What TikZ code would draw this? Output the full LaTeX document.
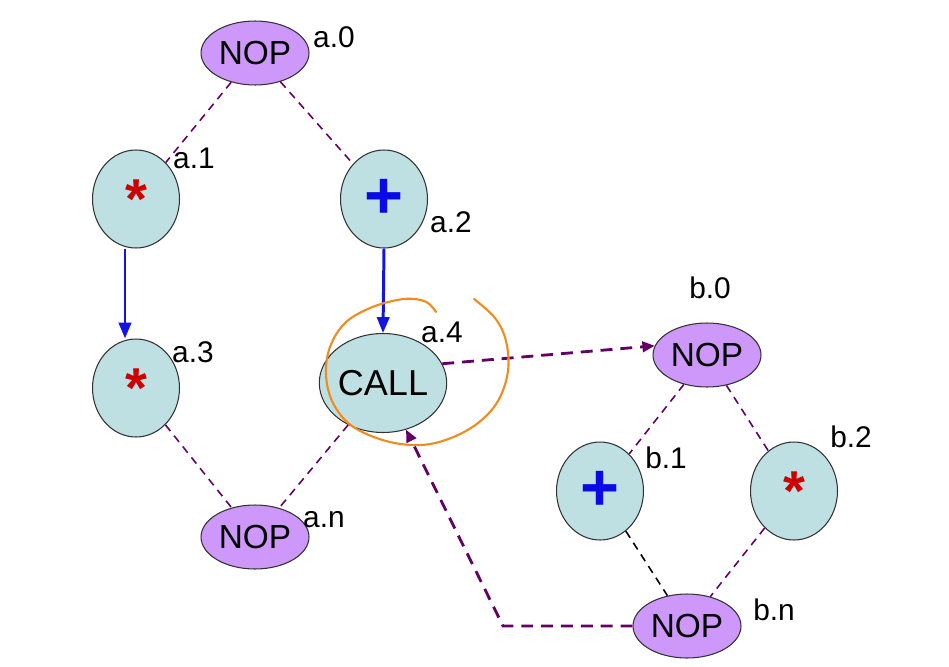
\documentclass[tikz,border=0pt]{standalone}
\usepackage{fontspec}
\setmainfont{Liberation Sans}
\usetikzlibrary{shapes.geometric,arrows.meta}
\definecolor{tealfill}{RGB}{190,224,226}
\definecolor{nopfill}{RGB}{205,152,250}
\definecolor{outl}{RGB}{50,50,50}
\definecolor{dpurple}{RGB}{100,0,100}
\definecolor{arrblue}{RGB}{20,20,225}
\definecolor{starred}{RGB}{204,0,0}
\definecolor{plusblue}{RGB}{10,10,230}
\definecolor{handorange}{RGB}{240,140,30}
\begin{document}
\begin{tikzpicture}[x=0.02cm,y=-0.02cm,
  opnode/.style={ellipse,draw=outl,line width=0.6pt,fill=tealfill,inner sep=0pt,minimum width=1.74cm,minimum height=1.96cm},
  callnode/.style={ellipse,draw=outl,line width=0.6pt,fill=tealfill,inner sep=0pt,minimum width=2.18cm,minimum height=1.98cm,font=\fontsize{20.5}{20.5}\selectfont},
  nopnode/.style={ellipse,draw=outl,line width=0.6pt,fill=nopfill,inner sep=0pt,minimum width=2.16cm,minimum height=1.28cm,font=\fontsize{19}{19}\selectfont},
  lbl/.style={font=\fontsize{17}{17}\selectfont,inner sep=0pt},
  tdashed/.style={draw=dpurple,line width=0.9pt,dash pattern=on 4.5pt off 3.4pt},
  kdashed/.style={draw=black,line width=0.9pt,dash pattern=on 4.5pt off 3.4pt},
  flowarrow/.style={draw=arrblue,line width=1.7pt,-{Triangle[length=9pt,width=7pt]}},
  callarrow/.style={draw=dpurple,line width=1.6pt,dash pattern=on 6.8pt off 4.5pt,-{Triangle[length=7pt,width=6pt]}},
]
\useasboundingbox (0,0) rectangle (949,666);
\newcommand{\redstar}{{\fontsize{32}{32}\selectfont\bfseries\color{starred}*}}
\newcommand{\blueplus}{{\fontsize{38}{38}\selectfont\bfseries\color{plusblue}+}}

% graph a
\node[nopnode] (a0) at (255,53) {NOP};
\node[opnode] (a1) at (136,199) {\redstar};
\node[opnode] (a2) at (384,199) {\blueplus};
\node[opnode] (a3) at (136,388) {\redstar};
\node[callnode] (a4) at (383,383) {CALL};
\node[nopnode] (an) at (255,537) {NOP};

\node[lbl] (la0) at (334,37) {a.0};
\node[lbl] (la1) at (194,158) {a.1};
\node[lbl] (la2) at (451,222) {a.2};
\node[lbl] (la3) at (193,352) {a.3};
\node[lbl] (la4) at (442,332) {a.4};
\node[lbl] (lan) at (324,520) {a.n};

% graph b
\node[nopnode] (b0) at (707,355) {NOP};
\node[opnode] (b1) at (600,491) {\blueplus};
\node[opnode] (b2) at (794,491) {\redstar};
\node[nopnode] (bn) at (687,626) {NOP};

\node[lbl] (lb0) at (710,288) {b.0};
\node[lbl] (lb1) at (666,458) {b.1};
\node[lbl] (lb2) at (851,437) {b.2};
\node[lbl] (lbn) at (774,610) {b.n};

% thin dashed edges
\draw[tdashed] (a0) -- (a1);
\draw[tdashed] (a0) -- (a2);
\draw[tdashed] (a3) -- (an);
\draw[tdashed] (a4) -- (an);
\draw[tdashed] (b0) -- (b1);
\draw[tdashed] (b0) -- (b2);
\draw[kdashed] (b1) -- (bn);
\draw[tdashed] (b2) -- (bn);

% blue flow arrows
\draw[flowarrow] ([xshift=-0.22cm]a1.south) -- ([xshift=-0.22cm]a3.north);
\draw[flowarrow] (a2.south) -- (a4.north);

% call / return arrows
\coordinate (corner) at (503,626);
\draw[callarrow] (a4.18) -- (b0.170);
\draw[callarrow] (bn.west) -- (corner) -- (a4);

% hand-drawn orange circle
\draw[handorange,line width=1.2pt,line cap=round] plot[smooth,tension=0.6] coordinates {
 (436,312) (428,303) (415,299) (397,300) (370,308) (345,323) (330,347) (326,375) (333,403) (352,426) (386,441) (421,445) (451,438) (478,423) (498,401) (508,371) (506,341) (495,318) (474,299)};
\end{tikzpicture}
\end{document}
